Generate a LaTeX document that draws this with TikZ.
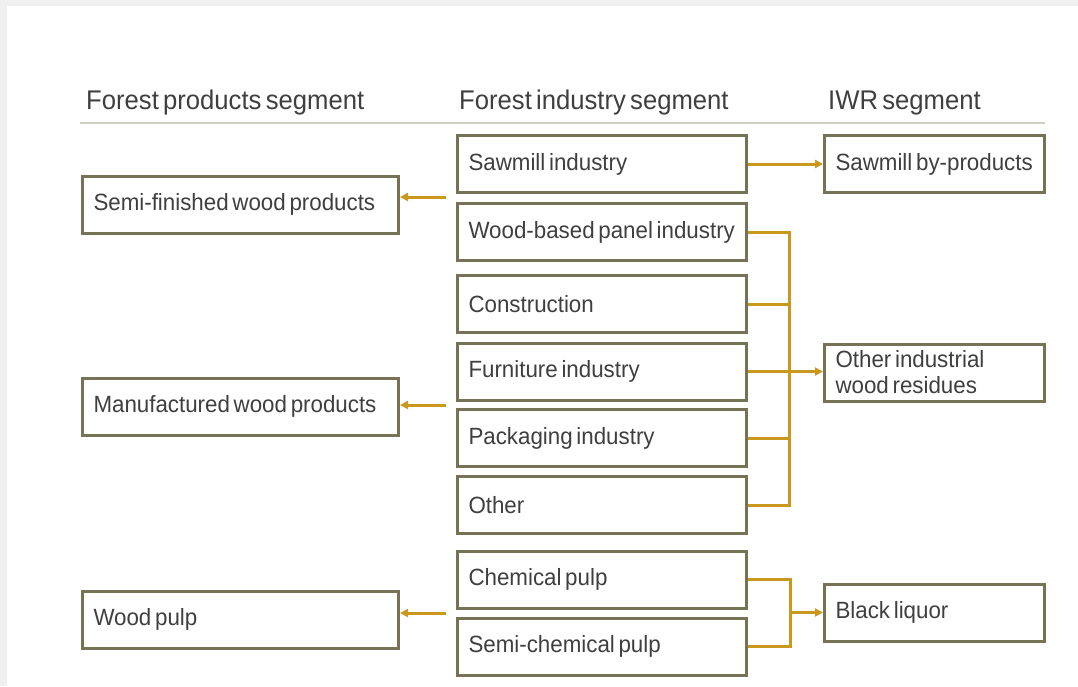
\documentclass[tikz,border=0pt]{standalone}
\usepackage{fontspec}
\setmainfont{Liberation Sans}[FakeStretch=0.95,WordSpace=0.6]
\usetikzlibrary{arrows.meta, positioning}
\definecolor{boxline}{HTML}{767256}
\definecolor{gold}{HTML}{C9981C}
\definecolor{txt}{HTML}{3F3F3F}
\definecolor{rulegray}{HTML}{CFCDC4}
\hyphenpenalty=10000

\begin{document}
\begin{tikzpicture}[
    x=1pt, y=-1pt,
    >={Triangle[length=8pt, width=8pt]},
    segbox/.style={draw=boxline, line width=3pt, rectangle, minimum height=57pt, text width=#1, inner xsep=11pt, align=flush left, anchor=west, text=txt, font=\fontsize{23.5}{26}\selectfont},
    head/.style={anchor=base west, inner sep=0pt, text=txt, font=\fontsize{27}{30}\selectfont},
    feed/.style={draw=gold, line width=3pt, line join=miter},
    flow/.style={->, draw=gold, line width=3pt}
]
\useasboundingbox (0,0) rectangle (1078,686);
\fill[gray!12] (0,0) rectangle (1078,686);
\fill[white] (7,6) rectangle (1078,686);

% Headers
\node[head] (hprod) at (86,109) {Forest products segment};
\node[head] (hind) at (459,109) {Forest industry segment};
\node[head] (hiwr) at (828,109) {IWR segment};
\draw[rulegray, line width=1.2pt] (80,123) -- (1045,123);

% Forest products segment
\node[segbox=294pt] (semifin) at (81,204.5) {Semi-finished wood products};
\node[segbox=294pt] (manuf) at (81,406.5) {Manufactured wood products};
\node[segbox=294pt] (pulp) at (81,619.5) {Wood pulp};

% Forest industry segment
\node[segbox=267pt] (sawmill) at (456,164) {Sawmill industry};
\node[segbox=267pt] (panel) at (456,232) {Wood-based panel industry};
\node[segbox=267pt] (constr) at (456,304) {Construction};
\node[segbox=267pt] (furn) at (456,371.5) {Furniture industry};
\node[segbox=267pt] (pack) at (456,438) {Packaging industry};
\node[segbox=267pt] (other) at (456,505) {Other};
\node[segbox=267pt] (chem) at (456,579.5) {Chemical pulp};
\node[segbox=267pt] (semichem) at (456,646.5) {Semi-chemical pulp};

% IWR segment
\node[segbox=198pt] (byprod) at (823,164) {Sawmill by-products};
\node[segbox=198pt] (residues) at (823,372.5) {Other industrial\\wood residues};
\node[segbox=198pt] (liquor) at (823,612.5) {Black liquor};

% Arrows to the left
\coordinate (tosemi) at (446,197);
\coordinate (tomanuf) at (446,405);
\coordinate (topulp) at (446,613);
\draw[flow] (tosemi) -- (tosemi -| semifin.east);
\draw[flow] (tomanuf) -- (tomanuf -| manuf.east);
\draw[flow] (topulp) -- (topulp -| pulp.east);

% Arrows to the right
\draw[flow] (sawmill.east) -- (byprod.west);

\coordinate (bus) at (789,0);
\draw[feed] (panel.east) -- (panel.east -| bus) -- (other.east -| bus) -- (other.east);
\draw[feed] (constr.east) -- (constr.east -| bus);
\draw[feed] (pack.east) -- (pack.east -| bus);
\draw[flow] (furn.east) -- (furn.east -| residues.west);

\coordinate (pbus) at (790,0);
\draw[feed] (chem.east) -- (chem.east -| pbus) -- (semichem.east -| pbus) -- (semichem.east);
\draw[flow] (liquor.west -| pbus) -- (liquor.west);

\end{tikzpicture}
\end{document}
